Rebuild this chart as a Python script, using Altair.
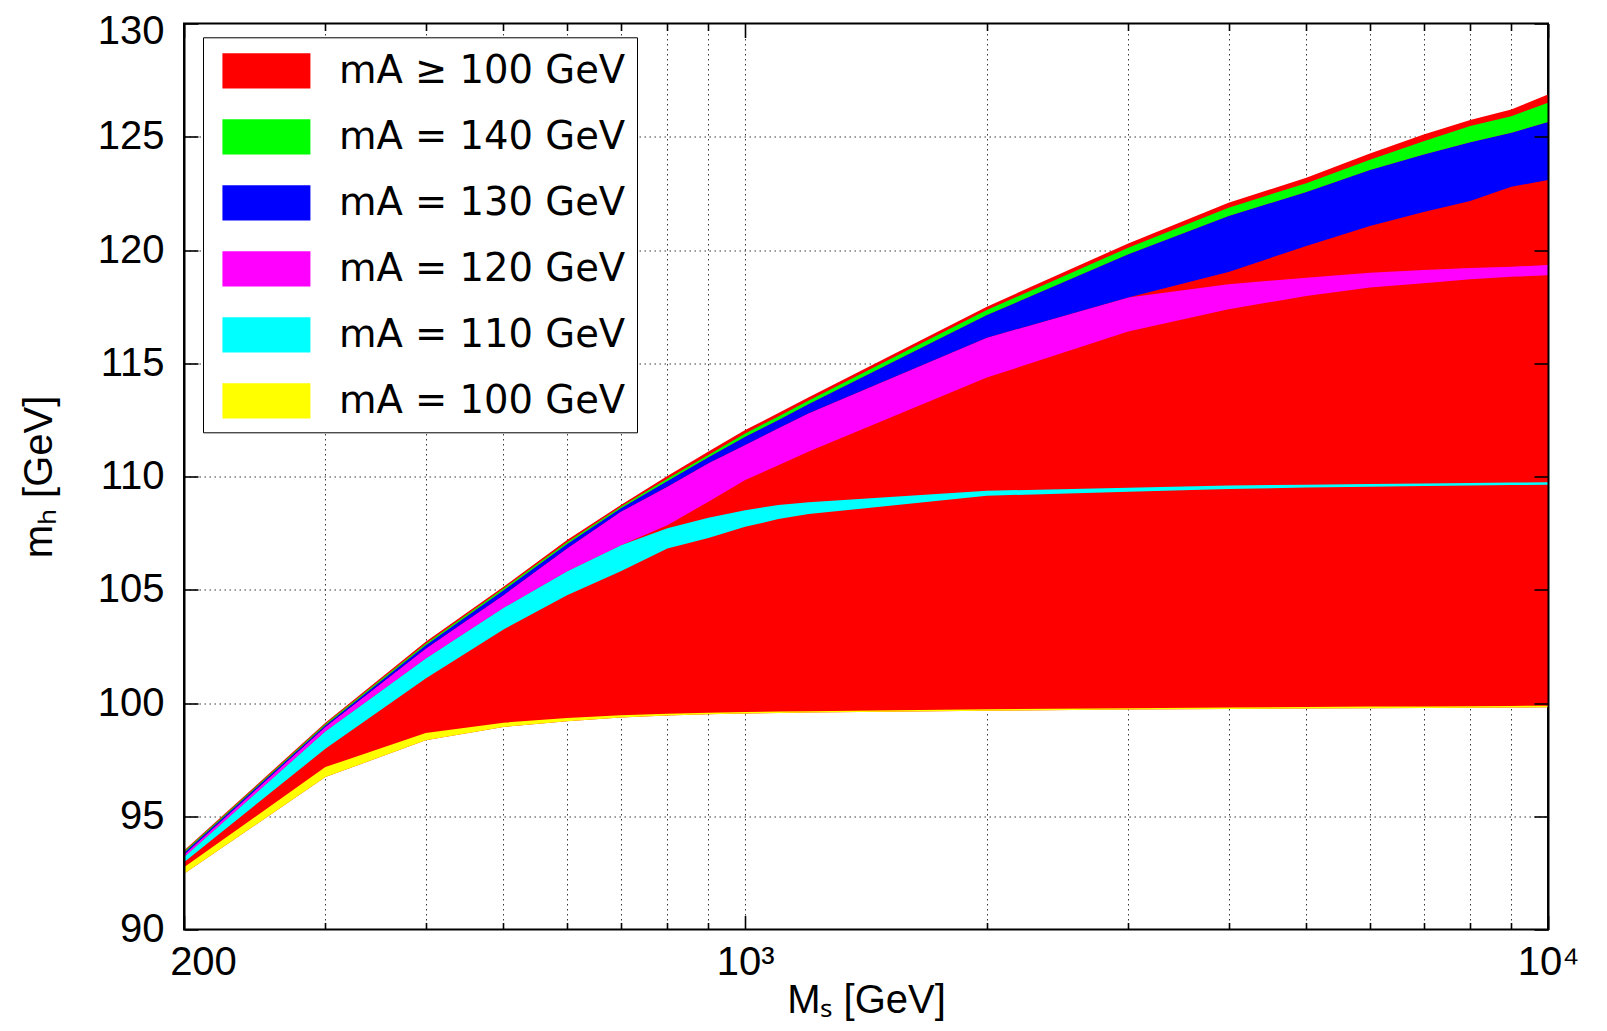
import altair as alt
import pandas as pd

# ---------------- data ----------------
MS = [200, 300, 400, 500, 600, 700, 800, 900, 1000, 1100, 1200,
      2000, 3000, 4000, 5000, 6000, 7000, 8000, 9000, 10000]

# full region m_A >= 100 GeV (red)
ALL_LO = [92.46, 96.73, 98.35, 98.94, 99.19, 99.36, 99.45, 99.50, 99.54, 99.56, 99.58,
          99.66, 99.71, 99.74, 99.76, 99.77, 99.78, 99.79, 99.80, 99.81]
ALL_HI = [93.49, 99.13, 102.70, 105.13, 107.20, 108.74, 110.02, 111.10, 112.05, 112.80, 113.50,
          117.50, 120.29, 122.09, 123.19, 124.26, 125.10, 125.74, 126.20, 126.87]

# m_A = 100 GeV (yellow)
YEL_LO = [92.46, 96.73, 98.35, 98.94, 99.19, 99.36, 99.45, 99.50, 99.54, 99.56, 99.58,
          99.66, 99.71, 99.74, 99.76, 99.77, 99.78, 99.79, 99.80, 99.81]
YEL_HI = [92.75, 97.17, 98.68, 99.13, 99.34, 99.46, 99.53, 99.57, 99.60, 99.62, 99.64,
          99.72, 99.77, 99.80, 99.82, 99.84, 99.85, 99.86, 99.87, 99.88]

# m_A = 110 GeV (cyan)
CYA_LO = [92.97, 97.98, 101.08, 103.25, 104.76, 105.82, 106.82, 107.29, 107.78, 108.12, 108.34,
          109.15, 109.33, 109.45, 109.51, 109.55, 109.58, 109.60, 109.62, 109.64]
CYA_HI = [93.20, 98.75, 101.96, 104.20, 105.82, 106.97, 107.71, 108.18, 108.51, 108.74, 108.86,
          109.37, 109.50, 109.60, 109.64, 109.67, 109.69, 109.71, 109.73, 109.75]

# m_A = 120 GeV (magenta)
MAG_LO = [93.20, 98.75, 101.96, 104.20, 105.82, 106.97, 107.85, 108.89, 109.84, 110.50, 111.10,
          114.37, 116.40, 117.38, 117.97, 118.34, 118.53, 118.71, 118.82, 118.88]
MAG_HI = [93.30, 98.94, 102.40, 104.76, 106.82, 108.44, 109.55, 110.58, 111.39, 112.13, 112.79,
          116.13, 117.90, 118.49, 118.78, 119.00, 119.12, 119.21, 119.26, 119.34]

# m_A = 130 GeV (blue)
BLU_LO = [93.30, 98.94, 102.40, 104.76, 106.82, 108.44, 109.55, 110.58, 111.39, 112.13, 112.79,
          116.13, 117.90, 119.03, 120.18, 121.06, 121.68, 122.16, 122.79, 123.09]
BLU_HI = [93.39, 99.02, 102.55, 104.98, 107.02, 108.60, 109.80, 110.85, 111.76, 112.50, 113.20,
          117.13, 119.81, 121.50, 122.56, 123.53, 124.22, 124.76, 125.18, 125.65]

# m_A = 140 GeV (green)
GRN_LO = [93.39, 99.02, 102.55, 104.98, 107.02, 108.60, 109.80, 110.85, 111.76, 112.50, 113.20,
          117.13, 119.81, 121.50, 122.56, 123.53, 124.22, 124.76, 125.18, 125.65]
GRN_HI = [93.44, 99.07, 102.62, 105.05, 107.10, 108.66, 109.90, 110.95, 111.90, 112.65, 113.35,
          117.35, 120.10, 121.87, 122.95, 123.98, 124.80, 125.47, 125.91, 126.50]

PAD = "\u00a0\u2009"
LABELS = ["mA ≥ 100 GeV" + PAD, "mA = 140 GeV" + PAD, "mA = 130 GeV" + PAD,
          "mA = 120 GeV" + PAD, "mA = 110 GeV" + PAD, "mA = 100 GeV" + PAD]
COLORS = ["#ff0000", "#00ff00", "#0000ff", "#ff00ff", "#00ffff", "#ffff00"]

X_MAJOR = [200, 1000, 10000]
X_MINOR = [300, 400, 500, 600, 700, 800, 900, 2000, 3000, 4000, 5000, 6000, 7000, 8000, 9000]
X_GRID = [300, 400, 500, 600, 700, 800, 900, 1000, 2000, 3000, 4000, 5000, 6000, 7000, 8000, 9000]
Y_TICKS = [90, 95, 100, 105, 110, 115, 120, 125, 130]
Y_GRID = [95, 100, 105, 110, 115, 120, 125]

# ---------------- table ----------------
bands = [
    (LABELS[0], ALL_LO, ALL_HI),
    (LABELS[5], YEL_LO, YEL_HI),
    (LABELS[4], CYA_LO, CYA_HI),
    (LABELS[3], MAG_LO, MAG_HI),
    (LABELS[2], BLU_LO, BLU_HI),
    (LABELS[1], GRN_LO, GRN_HI),
]
rows = []
for name, lo, hi in bands:
    for m, a, b in zip(MS, lo, hi):
        rows.append({"band": name, "ms": m, "lo": a, "hi": b})
df = pd.DataFrame(rows)

FONT = "Liberation Sans"
xscale = alt.Scale(type="log", domain=[200, 10000], nice=False)
yscale = alt.Scale(domain=[90, 130], nice=False, zero=False)
cscale = alt.Scale(domain=LABELS, range=COLORS)

legend = alt.Legend(
    orient="none", legendX=19, legendY=13.8, title=None, direction="vertical",
    fillColor="white", strokeColor="black", padding=11.5,
    symbolType="M-0.64,-0.8H3.36V0.8H-0.64Z", symbolSize=1936,
    symbolStrokeWidth=0, symbolOpacity=1,
    labelFont="DejaVu Sans", labelFontSize=38.5, labelColor="black",
    labelOffset=80.5, labelLimit=2000, rowPadding=24.0,
)

common_tick = dict(domain=False, grid=False, title=None, labels=False,
                   tickColor="black", tickWidth=1.6, zindex=1)

axes = {
    # grid only
    "grid": (
        alt.Axis(orient="bottom", values=X_GRID, grid=True, gridColor="#222", gridDash=[1.5, 3.5],
                 gridWidth=1, gridOpacity=0.9, ticks=False, labels=False, domain=False, title=None, zindex=0),
        alt.Axis(orient="left", values=Y_GRID, grid=True, gridColor="#222", gridDash=[1.5, 3.5],
                 gridWidth=1, gridOpacity=0.9, ticks=False, labels=False, domain=False, title=None, zindex=0),
    ),
    # main labelled axes, inward major ticks
    "main": (
        alt.Axis(orient="bottom", values=X_MAJOR, offset=-14, tickSize=14, tickColor="black", tickWidth=1.6,
                 domain=False, grid=False, labels=True, labelFlush=False, labelOverlap=False,
                 labelExpr="datum.value == 1000 ? '10³' : (datum.value == 10000 ? '10⁴' : '200')",
                 labelFont=FONT, labelFontSize=40, labelColor="black", labelPadding=13,
                 labelOffset={"condition": {"test": "datum.value == 200", "value": 19}, "value": 0},
                 title="Mₛ [GeV]", titleFont=FONT, titleFontSize=40, titleFontWeight="normal",
                 titleColor="black", titlePadding=-2, zindex=1),
        alt.Axis(orient="left", values=Y_TICKS, offset=-14, tickSize=14, tickColor="black", tickWidth=1.6,
                 domain=False, grid=False, labels=True, labelFont=FONT, labelFontSize=40,
                 labelColor="black", labelPadding=20,
                 labelOffset={"condition": {"test": "datum.value == 130", "value": 7.5}, "value": 0},
                 title="mₕ [GeV]", titleFont=FONT, titleFontSize=40, titleFontWeight="normal",
                 titleColor="black", titlePadding=38, zindex=1),
    ),
    # minor bottom ticks + left frame line
    "minor": (
        alt.Axis(orient="bottom", values=X_MINOR, offset=-7, tickSize=7, **common_tick),
        alt.Axis(orient="left", values=Y_TICKS, ticks=False, labels=False, grid=False, title=None,
                 domain=True, domainColor="black", domainWidth=2, zindex=1),
    ),
    # top major ticks + right ticks
    "mirror": (
        alt.Axis(orient="top", values=X_MAJOR, offset=-14, tickSize=14, **common_tick),
        alt.Axis(orient="right", values=Y_TICKS, offset=-14, tickSize=14, **common_tick),
    ),
    # top minor ticks + right frame line
    "mirror_minor": (
        alt.Axis(orient="top", values=X_MINOR, offset=-7, tickSize=7, **common_tick),
        alt.Axis(orient="right", values=Y_TICKS, ticks=False, labels=False, grid=False, title=None,
                 domain=True, domainColor="black", domainWidth=2, zindex=1),
    ),
    "none": (None, None),
}

order_axes = ["grid", "main", "minor", "mirror", "mirror_minor", "none"]

layers = []
for (name, _lo, _hi), key in zip(bands, order_axes):
    xa, ya = axes[key]
    layers.append(
        alt.Chart(df)
        .transform_filter(alt.datum.band == name)
        .mark_area(opacity=1, interpolate="linear")
        .encode(
            x=alt.X("ms:Q", scale=xscale, axis=xa),
            y=alt.Y("lo:Q", scale=yscale, axis=ya),
            y2="hi:Q",
            color=alt.Color("band:N", scale=cscale, legend=legend),
        )
    )

chart = (
    alt.layer(*layers)
    .resolve_axis(x="independent", y="independent")
    .properties(
        width=1364, height=906,
        autosize=alt.AutoSizeParams(type="none"),
        padding={"left": 176, "top": 15.5, "right": 40, "bottom": 92.5},
        background="white",
    )
    .configure_view(stroke="black", strokeWidth=2)
)

chart.save("out.html", embed_options={"renderer": "svg", "actions": False})
